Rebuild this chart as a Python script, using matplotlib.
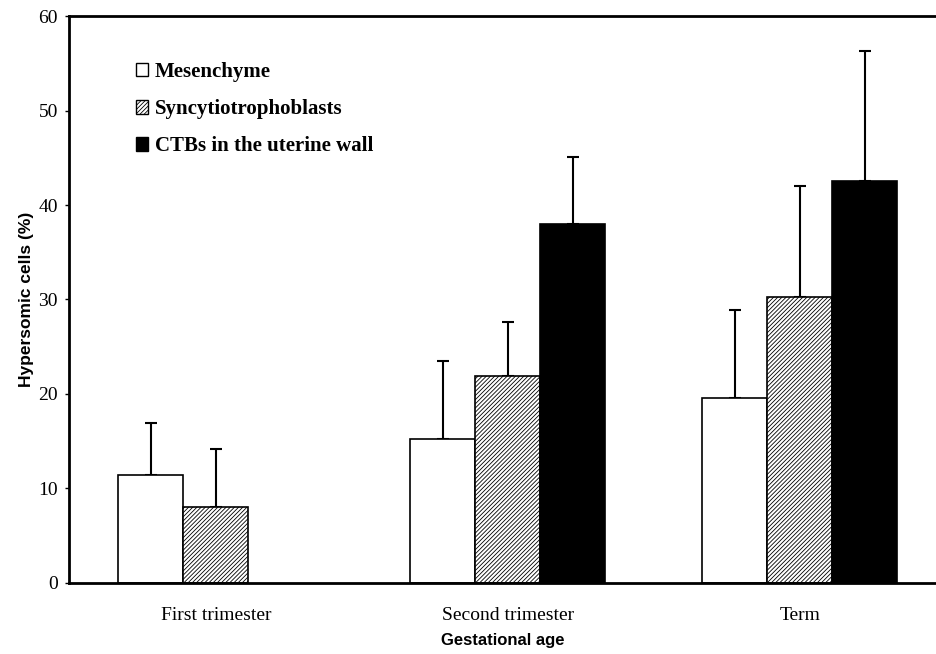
import matplotlib
matplotlib.use('Agg')
import matplotlib.pyplot as plt
import numpy as np
from matplotlib.patches import Patch

groups = ['First trimester', 'Second trimester', 'Term']
series = ['Mesenchyme', 'Syncytiotrophoblasts', 'CTBs in the uterine wall']
mesenchyme = [11.4, 15.2, 19.6]
mesenchyme_err = [5.5, 8.3, 9.3]
syncytio = [8.0, 21.9, 30.3]
syncytio_err = [6.2, 5.7, 11.7]
ctb = [0, 38.0, 42.5]
ctb_err = [0, 7.1, 13.8]
yticks = [0, 10, 20, 30, 40, 50, 60]

plt.rcParams['hatch.linewidth'] = 0.6
serif = 'Liberation Serif'
sans = 'Liberation Sans'

fig = plt.figure(figsize=(9.36, 6.54), dpi=100)
ax = fig.add_axes([0.0737, 0.1086, 0.9263, 0.8669])

x = np.arange(len(groups))
w = 0.2226
lw = 1.2
ekw = dict(elinewidth=1.5, capthick=1.5, ecolor='black')

ax.bar(x - w, mesenchyme, w, color='white', edgecolor='black', linewidth=lw, zorder=2)
ax.errorbar(x - w, mesenchyme, yerr=[np.zeros(3), mesenchyme_err], fmt='none', capsize=4, zorder=1, **ekw)

ax.bar(x, syncytio, w, color='white', edgecolor='black', hatch='////////', linewidth=lw, zorder=2)
ax.errorbar(x, syncytio, yerr=[np.zeros(3), syncytio_err], fmt='none', capsize=4, zorder=1, **ekw)

# no CTB data for the first trimester
ax.bar(x[1:] + w, ctb[1:], w, color='black', edgecolor='black', linewidth=lw, zorder=2)
ax.errorbar(x[1:] + w, ctb[1:], yerr=[np.zeros(2), ctb_err[1:]], fmt='none', capsize=4, zorder=1, **ekw)

ax.set_xlim(-0.503, 2.466)
ax.set_ylim(0, 60)
ax.set_yticks(yticks)
ax.set_yticklabels([str(t) for t in yticks], fontfamily=serif, fontsize=14)
ax.set_xticks(x)
ax.set_xticklabels(groups, fontfamily=serif, fontsize=14)
ax.tick_params(axis='x', length=0, pad=17)
ax.tick_params(axis='y', length=3, width=1, pad=5)

for s in ['left', 'top', 'bottom']:
    ax.spines[s].set_linewidth(2)
ax.spines['right'].set_visible(False)

ax.set_ylabel('Hypersomic cells (%)', fontfamily=sans, fontweight='bold', fontsize=12.5, labelpad=3)
ax.set_xlabel('Gestational age', fontfamily=sans, fontweight='bold', fontsize=12, labelpad=7)

handles = [
    Patch(facecolor='white', edgecolor='black', linewidth=1),
    Patch(facecolor='white', edgecolor='black', hatch='////////', linewidth=1),
    Patch(facecolor='black', edgecolor='black', linewidth=1),
]
ax.legend(handles, series, loc='upper left', bbox_to_anchor=(0.065, 0.937), frameon=False,
          prop={'family': serif, 'weight': 'bold', 'size': 15},
          handlelength=0.6, handleheight=0.6, handletextpad=0.3, labelspacing=0.82, borderpad=0)

fig.savefig('out.png', dpi=100)
